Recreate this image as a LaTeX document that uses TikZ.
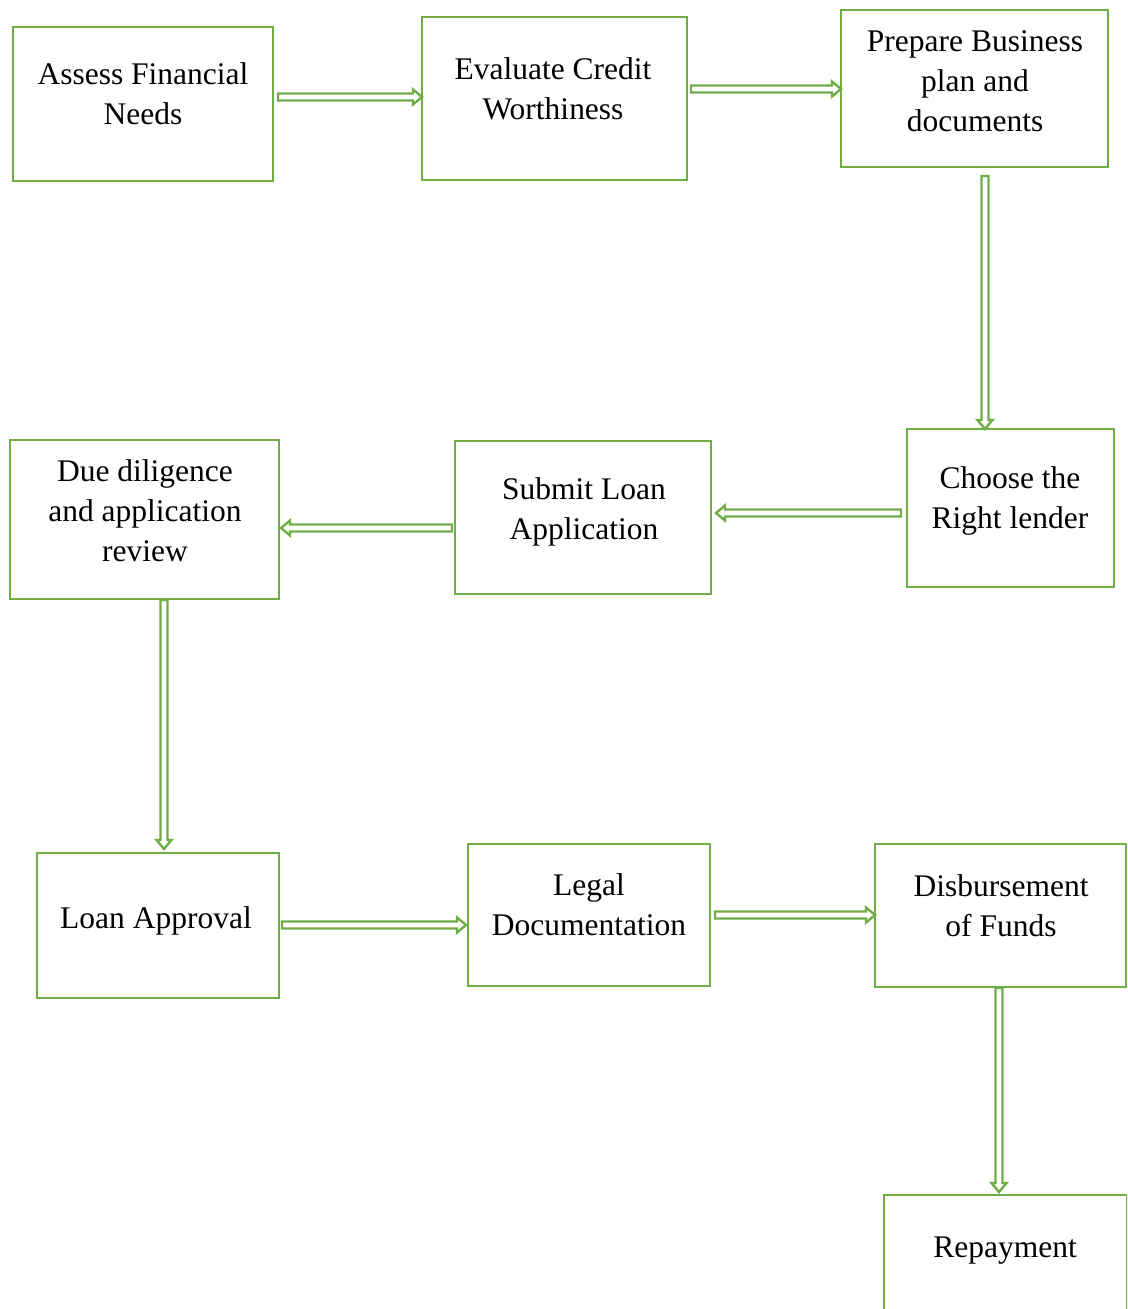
\documentclass[tikz,border=0pt]{standalone}
\usepackage{fontspec}
\setmainfont{Liberation Serif}
\usetikzlibrary{calc}
\definecolor{boxgreen}{HTML}{70AD47}
\tikzset{
  box/.style={draw=boxgreen, line width=2pt, inner sep=0pt},
  txt/.style={align=center, inner sep=0pt, font=\fontsize{31.5}{40}\selectfont, text=black},
  arrowst/.style={draw=boxgreen, line width=2.4pt, fill=white, line join=miter},
}
\newcommand{\blockarrow}[2]{%
  \path #1 coordinate (ba-s) #2 coordinate (ba-e);
  \draw[arrowst] let \p1=($(ba-e)-(ba-s)$), \n1={veclen(\x1,\y1)}, \n2={atan2(\y1,\x1)} in
    [shift={(ba-s)}, rotate=\n2] (0,-3.5) -- (\n1-9,-3.5) -- (\n1-9,-7.5) -- (\n1,0) -- (\n1-9,7.5) -- (\n1-9,3.5) -- (0,3.5) -- cycle;
}
\begin{document}
\begin{tikzpicture}[x=1pt,y=-1pt]
\clip (0,0) rectangle (1127,1309);
\fill[white] (0,0) rectangle (1127,1309);
% boxes
\node[box, minimum width=260pt, minimum height=154pt] (b1) at (143,104) {};
\node[box, minimum width=265pt, minimum height=163pt] (b2) at (554.5,98.5) {};
\node[box, minimum width=267pt, minimum height=157pt] (b3) at (974.5,88.5) {};
\node[box, minimum width=207pt, minimum height=158pt] (b4) at (1010.5,508) {};
\node[box, minimum width=256pt, minimum height=153pt] (b5) at (583,517.5) {};
\node[box, minimum width=269pt, minimum height=159pt] (b6) at (144.5,519.5) {};
\node[box, minimum width=242pt, minimum height=145pt] (b7) at (158,925.5) {};
\node[box, minimum width=242pt, minimum height=142pt] (b8) at (589,915) {};
\node[box, minimum width=251pt, minimum height=143pt] (b9) at (1000.5,915.5) {};
\node[box, minimum width=243pt, minimum height=160pt] (b10) at (1005.5,1275) {};
% texts
\node[txt] (t1) at (143,94) {Assess Financial\\Needs};
\node[txt] (t2) at (553,89) {Evaluate Credit\\Worthiness};
\node[txt] (t3) at (975,81) {Prepare Business\\plan and\\documents};
\node[txt] (t4) at (1010,501) {Choose the\\Right lender};
\node[txt] (t5) at (584,512) {Submit Loan\\Application};
\node[txt] (t6) at (145,511) {Due diligence\\and application\\review};
\node[txt] (t7) at (156,921) {Loan Approval};
\node[txt] (t8) at (589,905) {Legal\\Documentation};
\node[txt] (t9) at (1001,906) {Disbursement\\of Funds};
\node[txt] (t10) at (1005,1251) {Repayment};
% arrows
\blockarrow{($(b1.east)+(4,-7)$)}{($(b2.west)+(1,-1.5)$)}
\blockarrow{($(b2.east)+(3,-9.5)$)}{($(b3.west)+(1,0.5)$)}
\blockarrow{($(b3.south)+(10.5,8)$)}{($(b4.north)+(-25.5,1)$)}
\blockarrow{($(b4.west)+(-5,5)$)}{($(b5.east)+(4,-4.5)$)}
\blockarrow{($(b5.west)+(-2,10.5)$)}{($(b6.east)+(1,8.5)$)}
\blockarrow{($(b6.south)+(19.5,0)$)}{($(b7.north)+(6,-3)$)}
\blockarrow{($(b7.east)+(2,-0.5)$)}{($(b8.west)+(-1,10)$)}
\blockarrow{($(b8.east)+(4,0)$)}{($(b9.west)+(1,-0.5)$)}
\blockarrow{($(b9.south)+(-1.5,0)$)}{($(b10.north)+(-6.5,-2)$)}
\end{tikzpicture}
\end{document}
